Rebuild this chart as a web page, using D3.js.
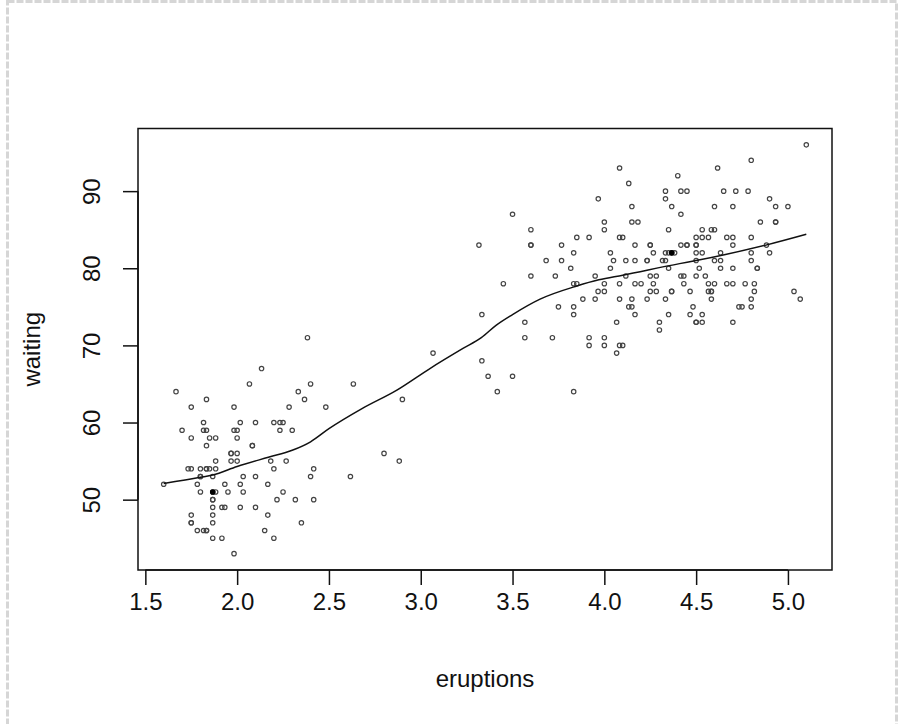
<!DOCTYPE html>
<html>
<head>
<meta charset="utf-8">
<script src="https://cdn.jsdelivr.net/npm/d3@7"></script>
<style>
  body { margin: 0; background: #fff; }
  text { font-family: "Liberation Sans", Arial, sans-serif; fill: #111; }
</style>
</head>
<body>
<div class="canvas"></div>
<script>
// Old Faithful geyser data
const eruptions = [3.600,1.800,3.333,2.283,4.533,2.883,4.700,3.600,1.950,4.350,1.833,3.917,4.200,1.750,4.700,2.167,1.750,4.800,1.600,4.250,
  1.800,1.750,3.450,3.067,4.533,3.600,1.967,4.083,3.850,4.433,4.300,4.467,3.367,4.033,3.833,2.017,1.867,4.833,1.833,4.783,
  4.350,1.883,4.567,1.750,4.533,3.317,3.833,2.100,4.633,2.000,4.800,4.716,1.833,4.833,1.733,4.883,3.717,1.667,4.567,4.317,
  2.233,4.500,1.750,4.800,1.817,4.400,4.167,4.700,2.067,4.700,4.033,1.967,4.500,4.000,1.983,5.067,2.017,4.567,3.883,3.600,
  4.133,4.333,4.100,2.633,4.067,4.933,3.950,4.517,2.167,4.000,2.200,4.333,1.867,4.817,1.833,4.300,4.667,3.750,1.867,4.900,
  2.483,4.367,2.100,4.500,4.050,1.867,4.700,1.783,4.850,3.683,4.733,2.300,4.900,4.417,1.700,4.633,2.317,4.600,1.817,4.417,
  2.617,4.067,4.250,1.967,4.600,3.767,1.917,4.500,2.267,4.650,1.867,4.167,2.800,4.333,1.833,4.383,1.883,4.933,2.033,3.733,
  4.233,2.233,4.533,4.817,4.333,1.983,4.633,2.017,5.100,1.800,5.033,4.000,2.400,4.600,3.567,4.000,4.500,4.083,1.800,3.967,
  2.200,4.150,2.000,3.833,3.500,4.583,2.367,5.000,1.933,4.617,1.917,2.083,4.583,3.333,4.167,4.333,4.500,2.417,4.000,4.167,
  1.883,4.583,4.250,3.767,2.033,4.433,4.083,1.833,4.417,2.183,4.800,1.833,4.800,4.100,3.966,4.233,3.500,4.366,2.250,4.667,
  2.100,4.350,4.133,1.867,4.600,1.783,4.367,3.850,1.933,4.500,2.383,4.700,1.867,3.833,3.417,4.233,2.400,4.800,2.000,4.150,
  1.867,4.267,1.750,4.483,4.000,4.117,4.083,4.267,3.917,4.550,4.083,2.417,4.183,2.217,4.450,1.883,1.850,4.283,3.950,2.333,
  4.150,2.350,4.933,2.900,4.583,3.833,2.083,4.367,2.133,4.350,2.200,4.450,3.567,4.500,4.150,3.817,3.917,4.450,2.000,4.283,
  4.767,4.533,1.850,4.250,1.983,2.250,4.750,4.117,2.150,4.417,1.817,4.467];
const waiting = [79,54,74,62,85,55,88,85,51,85,54,84,78,47,83,52,62,84,52,79,
  51,47,78,69,74,83,55,76,78,79,73,77,66,80,74,52,48,80,59,90,
  80,58,84,58,73,83,64,53,82,59,75,90,54,80,54,83,71,64,77,81,
  59,84,48,82,60,92,78,78,65,73,82,56,79,71,62,76,60,78,76,83,
  75,82,70,65,73,88,76,80,48,86,60,90,50,78,63,72,84,75,51,82,
  62,88,49,83,81,47,84,52,86,81,75,59,89,79,59,81,50,85,59,87,
  53,69,77,56,88,81,45,82,55,90,45,83,56,89,46,82,51,86,53,79,
  81,60,82,77,76,59,80,49,96,53,77,77,65,81,71,70,81,93,53,89,
  45,86,58,78,66,76,63,88,52,93,49,57,77,68,81,81,73,50,85,74,
  55,77,83,83,51,78,84,46,83,55,81,57,76,84,77,81,87,77,51,78,
  60,82,91,53,78,46,77,84,49,83,71,80,49,75,64,76,53,94,55,76,
  50,82,54,75,78,79,78,78,70,79,70,54,86,50,90,54,54,77,79,64,
  75,47,86,63,85,82,57,82,67,74,54,83,73,73,88,80,71,83,56,79,
  78,84,58,83,43,60,75,81,46,90,46,74];

// dark (overplotted) points
const darkX = [1.867, 4.367];
const darkY = [51, 82];

// smoothed curve
const smoothX = [1.6, 1.8, 1.867, 2.0, 2.17, 2.3, 2.4, 2.5, 2.68, 2.87, 3.05, 3.23, 3.33, 3.41, 3.5, 3.65, 3.85, 3.97, 4.1, 4.41, 4.5, 4.88, 5.1];
const smoothY = [52.1, 52.9, 53.2, 54.3, 55.5, 56.4, 57.5, 59.2, 61.8, 64.2, 67.0, 69.6, 71.0, 72.6, 74.0, 76.0, 77.7, 78.5, 79.1, 80.6, 81.0, 83.0, 84.4];

const xTicks = [1.5, 2.0, 2.5, 3.0, 3.5, 4.0, 4.5, 5.0];
const yTicks = [50, 60, 70, 80, 90];

const box = { left: 138, right: 832, top: 128.5, bottom: 570 };

const svg = d3
  .select(".canvas")
  .append("svg")
  .attr("width", 900)
  .attr("height", 724);

// window frame
svg.append("rect")
  .attr("x", 7.5).attr("y", 1.5)
  .attr("width", 889).attr("height", 760)
  .attr("fill", "none")
  .attr("stroke", "#d6d6d6")
  .attr("stroke-width", 3)
  .attr("stroke-dasharray", "7,2");

// R style 4% padding on both axes
const x = d3.scaleLinear().domain([1.46, 5.24]).range([box.left, box.right]);
const y = d3.scaleLinear().domain([40.88, 98.12]).range([box.bottom, box.top]);

// x axis
const xAxis = svg.append("g")
  .attr("transform", `translate(0, ${box.bottom})`)
  .call(d3.axisBottom(x).tickValues(xTicks).tickFormat(d3.format(".1f")).tickSize(15).tickPadding(8));
xAxis.selectAll("path, line").attr("stroke", "#111").attr("stroke-width", 1.5);
xAxis.selectAll("text").attr("font-size", 24).attr("fill", "#111").attr("dy", "0.71em")
  .attr("y", 23).attr("font-family", "Liberation Sans, Arial, sans-serif");
xAxis.select(".domain").attr("d", `M${x(1.5)},0H${x(5.0)}`);

// y axis
const yAxis = svg.append("g")
  .attr("transform", `translate(${box.left}, 0)`)
  .call(d3.axisLeft(y).tickValues(yTicks).tickSize(15));
yAxis.selectAll("path, line").attr("stroke", "#111").attr("stroke-width", 1.5);
yAxis.select(".domain").attr("d", `M0,${y(50)}V${y(90)}`);
yAxis.selectAll("text")
  .attr("x", null).attr("dy", null)
  .attr("text-anchor", "middle")
  .attr("font-size", 24).attr("fill", "#111")
  .attr("font-family", "Liberation Sans, Arial, sans-serif")
  .attr("transform", "translate(-38, 0) rotate(-90)");

// plot box
svg.append("rect")
  .attr("x", box.left).attr("y", box.top)
  .attr("width", box.right - box.left).attr("height", box.bottom - box.top)
  .attr("fill", "none")
  .attr("stroke", "#111")
  .attr("stroke-width", 1.5);

// axis titles
svg.append("text")
  .attr("x", (box.left + box.right) / 2).attr("y", 687)
  .attr("text-anchor", "middle")
  .attr("font-size", 24)
  .text("eruptions");

svg.append("text")
  .attr("transform", `translate(40, ${(box.top + box.bottom) / 2}) rotate(-90)`)
  .attr("text-anchor", "middle")
  .attr("font-size", 24)
  .text("waiting");

// points
const pts = eruptions.map((e, i) => ({ e, w: waiting[i] }));
svg.append("g")
  .selectAll("circle")
  .data(pts)
  .enter()
  .append("circle")
  .attr("cx", (d) => x(d.e))
  .attr("cy", (d) => y(d.w))
  .attr("r", 2.2)
  .attr("fill", "none")
  .attr("stroke", "#444")
  .attr("stroke-width", 1.2);

svg.append("g")
  .selectAll("circle")
  .data(darkX.map((e, i) => ({ e, w: darkY[i] })))
  .enter()
  .append("circle")
  .attr("cx", (d) => x(d.e))
  .attr("cy", (d) => y(d.w))
  .attr("r", 2.8)
  .attr("fill", "#000");

// smooth line
const line = d3.line().curve(d3.curveMonotoneX).x((d) => x(d[0])).y((d) => y(d[1]));
svg.append("path")
  .datum(smoothX.map((v, i) => [v, smoothY[i]]))
  .attr("d", line)
  .attr("fill", "none")
  .attr("stroke", "#111")
  .attr("stroke-width", 1.5);
</script>
</body>
</html>
